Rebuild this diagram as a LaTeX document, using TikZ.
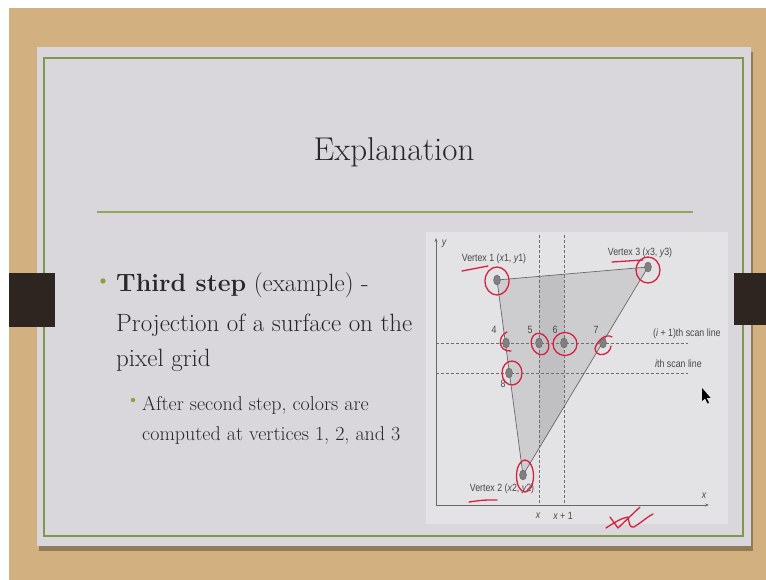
\documentclass[tikz,border=0pt]{standalone}
\usepackage{fontspec}
\newfontfamily\diag{Liberation Sans}
\usetikzlibrary{arrows.meta,shapes.geometric}
\definecolor{wood}{RGB}{210,176,128}
\definecolor{slidebg}{RGB}{217,215,219}
\definecolor{panelc}{RGB}{227,227,229}
\definecolor{greenb}{RGB}{128,152,78}
\definecolor{rulec}{RGB}{150,165,90}
\definecolor{tabc}{RGB}{46,36,32}
\definecolor{textc}{RGB}{40,40,40}
\definecolor{bulletc}{RGB}{140,160,60}
\definecolor{trifill}{RGB}{205,205,207}
\definecolor{colfill}{RGB}{192,192,194}
\definecolor{edgec}{RGB}{105,105,105}
\definecolor{dashc}{RGB}{110,110,110}
\definecolor{ptc}{RGB}{128,128,130}
\definecolor{redc}{RGB}{214,32,62}
\tikzset{
  edge/.style={draw=edgec, line width=0.7},
  dashl/.style={draw=dashc, line width=0.6, dash pattern=on 3pt off 2pt},
  axisl/.style={draw=edgec, line width=0.8, -{Stealth[length=4pt,width=3pt]}},
  pt/.style={ellipse, fill=ptc, draw=ptc!70!black, line width=0.3, inner sep=0, minimum width=7pt, minimum height=10pt},
  dlab/.style={font=\diag\fontsize{10.5}{12}\selectfont, text=textc!85, xscale=0.84, inner sep=0},
  redmark/.style={draw=redc, line width=1.3, line cap=round, line join=round},
  body/.style={anchor=base west, text=textc, inner sep=0},
}
\begin{document}
\begin{tikzpicture}[x=1pt,y=-1pt]
\useasboundingbox (0,0) rectangle (766,580);
\fill[white] (0,0) rectangle (766,580);
\fill[wood] (9,8) rectangle (766,580);
% slide with shadow
\fill[black!30!wood] (39,52) rectangle (753,551);
\fill[slidebg] (37,47) rectangle (751,546);
\draw[greenb, line width=1.3] (44,58) rectangle (743,536);
% tabs
\fill[tabc] (9,273) rectangle (55,327);
\fill[tabc] (734,273) rectangle (766,325);
% title
\node[text=textc, inner sep=0] (title) at (394,152) {\fontsize{33}{38}\selectfont Explanation};
\draw[rulec, line width=1.2] (97,212) -- (693,212);
% bullets
\fill[bulletc] (103,281) circle (2.7);
\node[body] (l1) at (116,291) {\fontsize{25}{30}\selectfont\textbf{Third step} (example) -};
\node[body] (l2) at (116,331) {\fontsize{25}{30}\selectfont Projection of a surface on the};
\node[body] (l3) at (116,366) {\fontsize{25}{30}\selectfont pixel grid};
\fill[bulletc] (133,400) circle (2.2);
\node[body] (s1) at (142,410) {\fontsize{20}{24}\selectfont After second step, colors are};
\node[body] (s2) at (142,440) {\fontsize{20}{24}\selectfont computed at vertices 1, 2, and 3};
% diagram panel
\fill[panelc] (426,232) rectangle (728,524);
\coordinate (v1) at (497,280);
\coordinate (v2) at (523,475);
\coordinate (v3) at (648,267);
\coordinate (o) at (436,505);
\fill[trifill] (v1) -- (v2) -- (v3) -- cycle;
\begin{scope}
\clip (v1) -- (v2) -- (v3) -- cycle;
\fill[colfill] (539,235) rectangle (564,505);
\end{scope}
% dashed grid
\coordinate (xa) at (539,235); \coordinate (xb) at (539,505);
\coordinate (xc) at (564,235); \coordinate (xd) at (564,505);
\coordinate (ha) at (436,343); \coordinate (hb) at (688,343);
\coordinate (hc) at (436,373); \coordinate (hd) at (688,373);
\draw[dashl] (xa) -- (xb);
\draw[dashl] (xc) -- (xd);
\draw[dashl] (ha) -- (hb);
\draw[dashl] (hc) -- (hd);
% axes
\coordinate (ytop) at (436,238);
\coordinate (xend) at (709,505);
\draw[axisl] (o) -- (ytop);
\draw[axisl] (o) -- (xend);
% triangle edges
\draw[edge] (v1) -- (v3) -- (v2) -- cycle;
% points
\node[pt] (p1) at (v1) {};
\node[pt] (p2) at (v2) {};
\node[pt] (p3) at (v3) {};
\node[pt] (p4) at (506,343) {};
\node[pt] (p5) at (539,343) {};
\node[pt] (p6) at (564,343) {};
\node[pt] (p7) at (603,343) {};
\node[pt] (p8) at (509,373) {};
% labels
\node[dlab] (ly) at (444,244) {\itshape y};
\node[dlab] (lx) at (704,496) {\itshape x};
\node[dlab] (lxa) at (538,516) {\itshape x};
\node[dlab] (lxb) at (563,516) {{\itshape x} + 1};
\node[dlab] (lv1) at (494,259) {Vertex 1 ({\itshape x}1, {\itshape y}1)};
\node[dlab] (lv3) at (640,253) {Vertex 3 ({\itshape x}3, {\itshape y}3)};
\node[dlab] (lv2) at (502,489) {Vertex 2 ({\itshape x}2, {\itshape y}2)};
\node[dlab] (l4) at (494,330) {4};
\node[dlab] (l5) at (530,330) {5};
\node[dlab] (l6) at (555,330) {6};
\node[dlab] (l7) at (596,330) {7};
\node[dlab] (l8) at (503,384) {8};
\node[dlab, anchor=base west] (sl1) at (653,336) {({\itshape i} + 1)th scan line};
\node[dlab, anchor=base west] (sl2) at (655,367) {{\itshape i}th scan line};
% cursor
\fill[black] (702,388) -- (702,401) -- (705,398.5) -- (707.5,403.5) -- (709,402.8) -- (706.6,397.8) -- (710.5,397.8) -- cycle;
% red annotations
\draw[redmark] (497,281) ellipse [x radius=12, y radius=14];
\draw[redmark] (462,271) .. controls (475,268) .. (488,266);
\draw[redmark] (648,270) ellipse [x radius=12, y radius=13];
\draw[redmark] (612,262) .. controls (628,261) .. (643,260);
\draw[redmark] (525,476) ellipse [x radius=8.5, y radius=16];
\draw[redmark] (469,502) .. controls (483,500) .. (497,500);
\draw[redmark] (507,332) .. controls (497,336) and (498,352) .. (511,351);
\draw[redmark, rotate around={20:(540,344)}] (540,344) ellipse [x radius=8.5, y radius=11];
\draw[redmark] (565,344) ellipse [x radius=12, y radius=11.5];
\draw[redmark] (612,337) .. controls (606,333) and (598,340) .. (595,348) .. controls (595,358) and (610,356) .. (611,346);
\draw[redmark] (512,373) ellipse [x radius=10, y radius=12];
\draw[redmark] (610,517) -- (618,528) -- (640,507);
\draw[redmark] (606,528) .. controls (615,522) and (622,518) .. (628,517) .. controls (630,527) .. (634,527) .. controls (642,522) and (647,517) .. (653,514);
\end{tikzpicture}
\end{document}
